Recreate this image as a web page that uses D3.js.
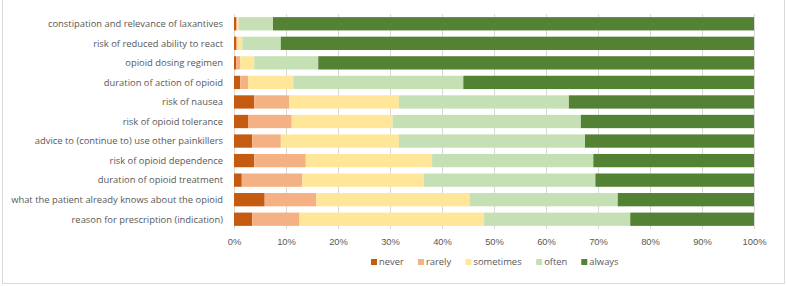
<!DOCTYPE html>
<html>
<head>
<meta charset="utf-8">
<script src="https://cdn.jsdelivr.net/npm/d3@7"></script>
<style>
  html, body { margin: 0; padding: 0; background: #fff; }
  svg { display: block; overflow: visible; font-family: "Open Sans", "Liberation Sans", sans-serif; }
  .cat-label { fill: #595959; font-size: 9.4px; }
  .tick text { fill: #595959; font-size: 9.4px; }
  .legend text { fill: #595959; font-size: 9.4px; }
</style>
</head>
<body>
<svg id="chart" width="787" height="286" viewBox="0 0 787 286"></svg>
<script>
// Topics, listed top to bottom
const topics = [
  "constipation and relevance of laxantives",
  "risk of reduced ability to react",
  "opioid dosing regimen",
  "duration of action of opioid",
  "risk of nausea",
  "risk of opioid tolerance",
  "advice to (continue to) use other painkillers ",
  "risk of opioid dependence",
  "duration of opioid treatment",
  "what the patient already knows about the opioid",
  "reason for prescription (indication)"
];

const answers = ["never", "rarely", "sometimes", "often", "always"];

// Percentages per answer, same order as topics
const never     = [0.4, 0.4, 0.4, 1.2, 3.9, 2.7, 3.5, 3.9, 1.5, 5.9, 3.5];
const rarely    = [0.2, 0.3, 0.8, 1.5, 6.7, 8.4, 5.5, 9.9, 11.6, 9.9, 9.1];
const sometimes = [0.3, 0.9, 2.7, 8.7, 21.1, 19.4, 22.7, 24.3, 23.4, 29.5, 35.5];
const often     = [6.6, 7.4, 12.3, 32.7, 32.7, 36.2, 35.8, 31.0, 33.0, 28.5, 28.1];
const always    = [92.5, 91.0, 83.8, 55.9, 35.6, 33.3, 32.5, 30.9, 30.5, 26.2, 23.8];

const xTicks = [0, 10, 20, 30, 40, 50, 60, 70, 80, 90, 100];

const colors = ["#C55A11", "#F4B183", "#FFE699", "#C5E0B4", "#548235"];

const rows = topics.map((t, i) => ({
  topic: t,
  never: never[i],
  rarely: rarely[i],
  sometimes: sometimes[i],
  often: often[i],
  always: always[i]
}));

const svg = d3.select("#chart");
const width = 787;
const height = 286;

// outer chart border (left, right, bottom edges only)
svg.append("path")
  .attr("d", `M2.5,0V${height - 2.5}H${width - 2.5}V0`)
  .attr("fill", "none")
  .attr("stroke", "#d9d9d9")
  .attr("stroke-width", 1);

const margin = { top: 14, right: 33, bottom: 57, left: 234 };
const innerWidth = width - margin.left - margin.right;
const innerHeight = height - margin.top - margin.bottom;

const g = svg.append("g")
  .attr("transform", `translate(${margin.left},${margin.top})`);

const x = d3.scaleLinear().domain([0, 100]).range([0, innerWidth]);
const y = d3.scaleBand().domain(topics).range([0, innerHeight]).paddingInner(0.32).paddingOuter(0.16);
const color = d3.scaleOrdinal().domain(answers).range(colors);

// Gridlines
g.append("g")
  .selectAll("line")
  .data(xTicks)
  .join("line")
  .attr("x1", d => x(d) + 0.5)
  .attr("x2", d => x(d) + 0.5)
  .attr("y1", 0)
  .attr("y2", innerHeight)
  .attr("stroke", "#d9d9d9")
  .attr("stroke-width", 1);

// Stacked bars
const stacked = d3.stack().keys(answers)(rows);

g.append("g")
  .selectAll("g")
  .data(stacked)
  .join("g")
  .attr("fill", d => color(d.key))
  .selectAll("rect")
  .data(d => d)
  .join("rect")
  .attr("x", d => x(d[0]))
  .attr("y", d => y(d.data.topic))
  .attr("width", d => x(d[1]) - x(d[0]))
  .attr("height", y.bandwidth());

// X axis
const xAxis = g.append("g")
  .attr("transform", `translate(0,${innerHeight + 4})`)
  .call(d3.axisBottom(x).tickValues(xTicks).tickFormat(d => d + "%").tickSize(0).tickPadding(5));
xAxis.select(".domain").remove();

// Category labels
g.append("g")
  .selectAll("text")
  .data(topics)
  .join("text")
  .attr("class", "cat-label")
  .attr("x", -11)
  .attr("y", d => y(d) + y.bandwidth() / 2)
  .attr("dy", "0.35em")
  .attr("text-anchor", "end")
  .text(d => d);

// Legend: lay out by measured text width, centred under the plot
const legend = svg.append("g").attr("class", "legend");
const items = legend.selectAll("g")
  .data(answers)
  .join("g");

items.append("rect")
  .attr("x", 0).attr("y", -3)
  .attr("width", 6).attr("height", 6)
  .attr("fill", d => color(d));

items.append("text")
  .attr("x", 8)
  .attr("dy", "0.35em")
  .text(d => d);

const gap = 14;
let offset = 0;
const offsets = [];
items.each(function() {
  offsets.push(offset);
  offset += this.getBBox().width + gap;
});
const totalWidth = offset - gap;
const legendStart = 495 - totalWidth / 2;
items.attr("transform", (d, i) => `translate(${legendStart + offsets[i]},262)`);
</script>
</body>
</html>
